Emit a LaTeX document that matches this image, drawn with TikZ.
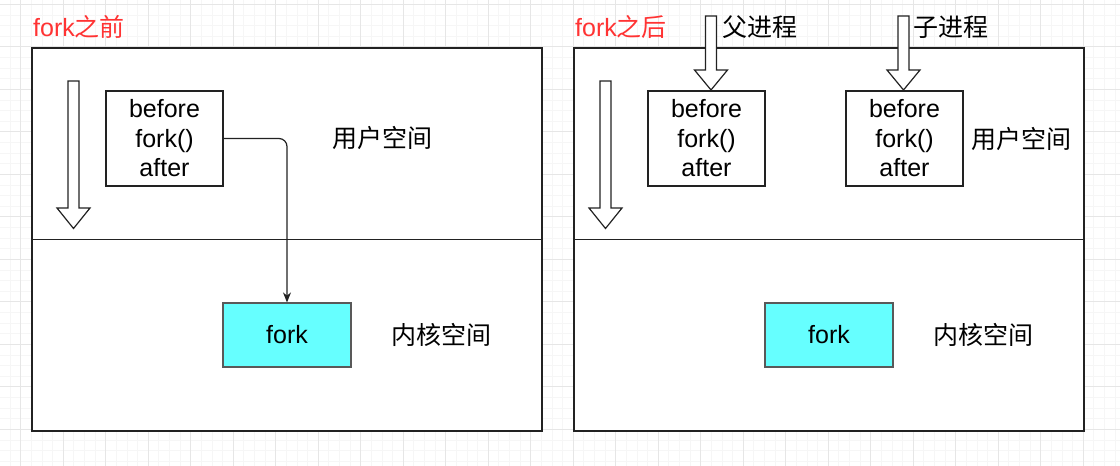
\documentclass[tikz,border=0pt]{standalone}
\usepackage{fontspec}
\setmainfont{Liberation Sans}
\newfontfamily\cjk{Noto Sans CJK SC}
\usetikzlibrary{arrows.meta}
\definecolor{gridmajor}{HTML}{E6E6E6}
\definecolor{gridminor}{HTML}{F6F6F6}
\definecolor{edge}{HTML}{222222}
\definecolor{kern}{HTML}{66FFFF}
\definecolor{titlered}{HTML}{FF3333}
\newcommand\blockarr[4]{%
  \draw[blockarrow] (#1-5.5,#2) -- (#1+5.5,#2) -- (#1+5.5,#3) -- (#1+16.5,#3)
    -- (#1,#4) -- (#1-16.5,#3) -- (#1-5.5,#3) -- cycle;}
\begin{document}
\begin{tikzpicture}[x=1pt,y=-1pt,
  txt/.style={font=\fontsize{25}{29.5}\selectfont, inner sep=0pt},
  ttl/.style={txt, text=titlered, anchor=west},
  panel/.style={draw=edge, fill=white, line width=1.4pt, minimum width=510pt, minimum height=383pt, inner sep=0pt},
  codebox/.style={draw=edge, fill=white, line width=1.2pt, minimum width=117pt, minimum height=95pt, inner sep=0pt, align=center, font=\fontsize{25}{29.5}\selectfont},
  forkbox/.style={draw=edge!75, fill=kern, line width=1.2pt, minimum width=128pt, minimum height=64pt, inner sep=0pt, font=\fontsize{25}{29.5}\selectfont},
  blockarrow/.style={draw=edge, fill=white, line width=1.2pt, line join=miter},
  divider/.style={draw=edge, line width=1.3pt},
  link/.style={draw=edge, line width=1.2pt, rounded corners=8pt, -{Stealth[length=10pt,width=8pt]}},
]
\useasboundingbox (0,0) rectangle (1120,466);
\fill[white] (0,0) rectangle (1120,466);
% grid
\foreach \x in {-0.55,10.075,...,1121}{\draw[gridminor,line width=0.8pt] (\x,0) -- (\x,466);}
\foreach \y in {-6.325,4.3,...,467}{\draw[gridminor,line width=0.8pt] (0,\y) -- (1120,\y);}
\foreach \x in {20.7,63.2,...,1121}{\draw[gridmajor,line width=0.9pt] (\x,0) -- (\x,466);}
\foreach \y in {4.3,46.8,...,467}{\draw[gridmajor,line width=0.9pt] (0,\y) -- (1120,\y);}

% panels
\node[panel] (L) at (287,239.5) {};
\node[panel] (R) at (829,239.5) {};
\draw[divider] (L.west) -- (L.east);
\draw[divider] (R.west) -- (R.east);

% titles
\node[ttl] (tL) at (33,27) {fork{\cjk 之前}};
\node[ttl] (tR) at (575,27) {fork{\cjk 之后}};

% left panel
\blockarr{73.5}{81}{208}{228.5}
\node[codebox] (CL) at (164.5,138.5) {before\\fork()\\after};
\node[forkbox] (KL) at (287,335) {fork};
\node[txt] (uL) at (382,138) {\cjk 用户空间};
\node[txt] (kL) at (441,335) {\cjk 内核空间};
\draw[link] (CL.east) -| (KL.north);

% right panel
\blockarr{605.5}{81}{208}{228.5}
\node[codebox] (CP) at (706.5,138.5) {before\\fork()\\after};
\node[codebox] (CC) at (904.5,138.5) {before\\fork()\\after};
\node[forkbox] (KR) at (829,335) {fork};
\node[txt] (uR) at (1021,139) {\cjk 用户空间};
\node[txt] (kR) at (983,335) {\cjk 内核空间};
\blockarr{711}{16}{70}{90}
\blockarr{903.5}{16}{70}{90}
\node[txt, anchor=west] (pL) at (722,27) {\cjk 父进程};
\node[txt, anchor=west] (cL) at (913,27) {\cjk 子进程};
\end{tikzpicture}
\end{document}
